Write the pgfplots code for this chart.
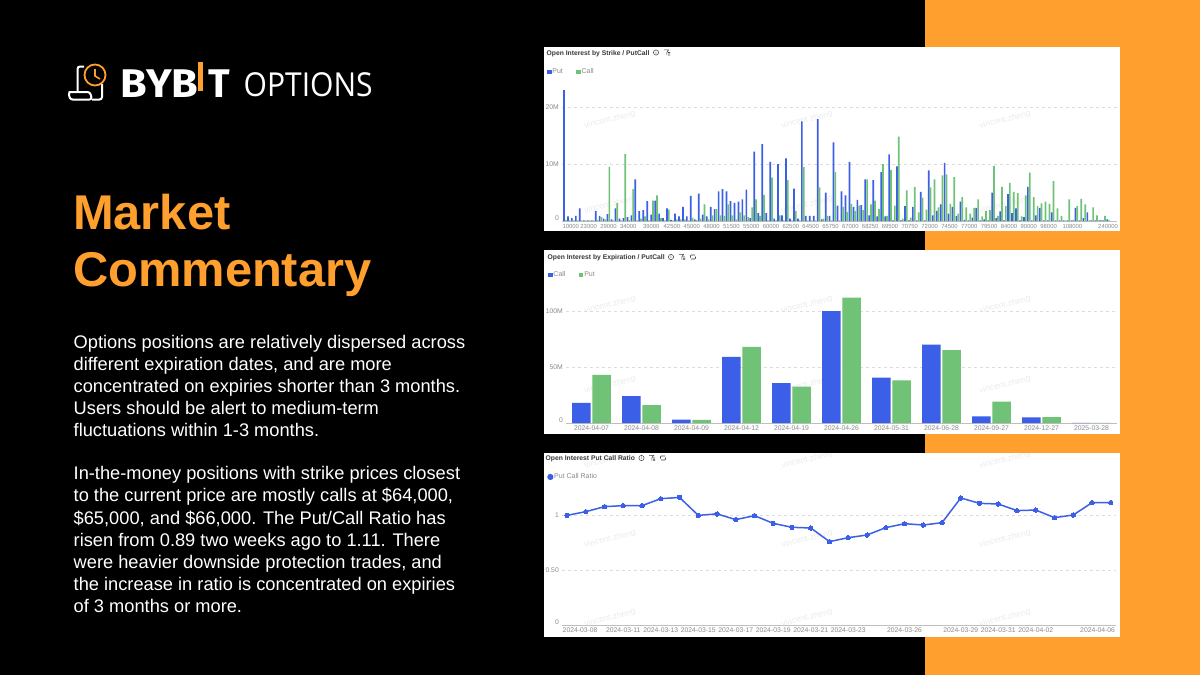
\documentclass[border=0pt]{standalone}
\usepackage{pgfplots}
\usepackage{pgfplotstable}
\pgfplotsset{compat=1.18}
\usepackage{fontspec}
\setmainfont{Liberation Sans}
\newfontfamily\logofont{Fira Sans}
\newfontfamily\optfont{Open Sans}
\definecolor{cblue}{HTML}{3B5FE6}
\definecolor{cgreen}{HTML}{6FC276}
\definecolor{corange}{HTML}{FF9F2E}
\definecolor{tickgray}{HTML}{8A8A8A}
\definecolor{gridgray}{HTML}{DDDDDD}
\definecolor{wm}{HTML}{ECECEC}
\newcommand\fs[1]{\fontsize{#1}{#1}\selectfont}
\pgfplotstableread{
i put call
0 23 0.2
1 0.8 0.1
2 0.5 0.1
3 0.9 0.1
4 2.2 0.1
5 0.1 0.1
6 0.1 0.1
7 0.1 0.1
8 1.8 0.2
9 0.9 0.7
10 0.4 0.3
11 1.2 9.5
12 0.3 0.1
13 2.2 3.2
14 0.4 0.1
15 0.5 11.8
16 0.7 0.2
17 1.0 5.6
18 7.3 0.1
19 1.8 0.4
20 1.9 0.8
21 3.5 0.1
22 1.1 3.6
23 3.6 4.5
24 1.3 0.5
25 0.5 0.1
26 2.2 2.0
27 0.2 0.1
28 1.3 0.3
29 0.8 0.3
30 2.5 0.3
31 0.8 0.1
32 4.4 0.6
33 0.3 0.2
34 4.8 0.4
35 1.1 2.9
36 0.8 0.3
37 2.5 1.0
38 2.1 2.1
39 5.2 1.0
40 5.6 0.9
41 5.2 2.9
42 3.5 1.0
43 3.2 0.3
44 3.4 1.5
45 3.8 1.0
46 5.5 0.7
47 0.5 2.4
48 12.2 3.8
49 1.4 0.9
50 13.5 4.6
51 1.4 0.1
52 10.4 7.6
53 0.4 0.1
54 10.0 1.0
55 1.0 0.1
56 11.0 7.2
57 0.4 0.1
58 5.7 1.8
59 0.4 0.1
60 17.5 9.5
61 0.9 0.1
62 0.9 0.1
63 0.9 0.1
64 17.9 5.9
65 0.3 0.4
66 5.0 0.9
67 0.9 0.1
68 13.8 8.6
69 2.7 0.1
70 5.2 2.5
71 4.5 1.6
72 10.4 3.0
73 2.5 1.8
74 3.7 2.7
75 2.8 1.9
76 7.3 7.3
77 1.0 2.9
78 7.2 3.6
79 0.8 2.1
80 8.6 10.0
81 0.8 0.9
82 11.7 9.0
83 0.1 2.7
84 9.6 14.8
85 0.1 0.4
86 2.6 5.4
87 0.1 0.6
88 2.5 6.0
89 0.1 1.5
90 5.1 4.1
91 0.1 2.0
92 8.9 5.9
93 1.0 7.3
94 1.8 2.4
95 2.9 8.0
96 10.2 8.2
97 1.3 3.0
98 2.5 7.7
99 0.9 1.3
100 3.4 4.2
101 0.2 2.4
102 0.1 1.3
103 0.6 2.3
104 2.3 3.8
105 0.1 0.8
106 0.3 1.8
107 0.1 1.9
108 5.0 9.7
109 0.5 0.9
110 1.7 6.0
111 0.1 2.6
112 4.7 6.7
113 1.4 5.1
114 2.2 4.9
115 0.1 0.8
116 0.7 4.5
117 6.0 8.5
118 0.1 4.2
119 1.0 2.6
120 2.3 3.1
121 0.1 3.4
122 0.1 3.0
123 1.5 7.0
124 0.1 2.2
125 0.1 0.9
126 0.1 0.1
127 0.1 3.8
128 0.1 0.2
129 2.3 2.6
130 0.1 3.9
131 0.5 2.9
132 1.5 0.1
133 0.1 2.4
134 0.1 1.0
135 0.1 0.2
136 0.1 0.9
137 0.3 0.1
}\strikedata
\pgfplotstableread{
i call put
0 18 43
1 24 16
2 3 2.7
3 59 68
4 35.5 32.5
5 100 112
6 40.5 38
7 70 65
8 6 19
9 5 5.3
10 0.1 0.1
}\expirydata
\pgfplotstableread{
i ratio
0 0.997
1 1.03
2 1.076
3 1.085
4 1.085
5 1.148
6 1.16
7 0.997
8 1.01
9 0.958
10 0.994
11 0.924
12 0.888
13 0.882
14 0.758
15 0.794
16 0.818
17 0.885
18 0.921
19 0.909
20 0.93
21 1.155
22 1.106
23 1.10
24 1.04
25 1.045
26 0.976
27 1.0
28 1.112
29 1.112
}\ratiodata
\pgfplotsset{
  panel/.style={
    scale only axis, clip=false,
    axis x line=bottom, axis y line=left,
    axis line style={-},
    y axis line style={draw=none},
    x axis line style={draw=black!25, line width=0.8pt},
    major tick length=0pt,
    ymajorgrids, grid style={dashed, gridgray, line width=0.5pt},
    ymin=0,
    ticklabel style={text=tickgray, font=\fs{6.8}, inner sep=0pt},
    xticklabel style={yshift=-2.2pt},
    yticklabel style={xshift=-3pt},
    legend style={draw=none, fill=none, inner sep=0pt, outer sep=0pt,
      legend columns=2, font=\fs{7}, text=tickgray,
      nodes={inner sep=0.8pt},
      /tikz/every even column/.append style={column sep=12.5pt}},
    legend cell align=left,
  },
  sq/.style={legend image code/.code={\fill[##1] (0,-2.3pt) rectangle (4.6pt,2.3pt);}},
}
\newcommand\wmark[2]{\node[rotate=14, text=wm, font=\fs{8.5}] at (#1,#2) {vincent.zheng};}
\newcommand\infoicon[2]{\draw[line width=0.5pt, black!75] (#1,#2) circle (2.6);\node[font=\fs{4.2}, text=black!80, inner sep=0] at (#1,#2) {i};}
\newcommand\filtericon[2]{\draw[line width=0.6pt, black!75] (#1-3,#2-2.7) -- (#1+1.6,#2-2.7) -- (#1-0.2,#2) -- (#1-0.2,#2+2.7) (#1+1.2,#2) -- (#1+3.2,#2) (#1+1.2,#2+1.3) -- (#1+3.2,#2+1.3) (#1+1.2,#2+2.6) -- (#1+3.2,#2+2.6);}
\newcommand\rotateicon[2]{\draw[line width=0.6pt, black!75, rounded corners=0.8pt] (#1-2.5,#2+0.5) -- (#1-2.5,#2-2) -- (#1+2.2,#2-2) (#1+2.5,#2-0.5) -- (#1+2.5,#2+2) -- (#1-2.2,#2+2);}
\begin{document}
\begin{tikzpicture}[x=1pt, y=-1pt]
\useasboundingbox (0,0) rectangle (1200,675);
\fill[black] (0,0) rectangle (1200,675);
\fill[corange] (925,0) rectangle (1200,675);
% logo
\begin{scope}[line width=2pt, white, rounded corners=2.5pt]
\draw (84,66.5) -- (77.5,66.5) -- (77.5,91);
\draw (71,92) -- (90,92) -- (92,99.5) -- (70,99.5) -- (68.5,92) -- cycle;
\draw (102,84) -- (102,99.5) -- (92,99.5);
\end{scope}
\draw[corange, line width=1.8pt] (95,75) circle (10.5);
\draw[corange, line width=1.6pt] (95,69) -- (95,76) -- (100,79);
\node[anchor=base west, inner sep=0, text=white, xscale=1.08, font=\logofont\bfseries\fs{40}] at (120.5,97.5) {BYB};
\fill[corange] (198,62) rectangle (203,91);
\node[anchor=base east, inner sep=0, text=white, font=\logofont\bfseries\fs{40}] at (230,97.5) {T};
\node[anchor=base west, inner sep=0, text=white, xscale=0.91, font=\optfont\fs{33}] at (243.5,96) {OPTIONS};
% title
\node[anchor=base west, inner sep=0, text=corange, font=\bfseries\fs{48.8}] at (73,229) {Market};
\node[anchor=base west, inner sep=0, text=corange, font=\bfseries\fs{48.8}] at (73,286) {Commentary};
% body
\begin{scope}[every node/.style={anchor=base west, inner sep=0, text=white, font=\fs{18.25}}]
\node at (73.5,348) {Options positions are relatively dispersed across};
\node at (73.5,370) {different expiration dates, and are more};
\node at (73.5,392) {concentrated on expiries shorter than 3 months.};
\node at (73.5,414) {Users should be alert to medium-term};
\node at (73.5,436) {fluctuations within 1-3 months.};
\node at (73.5,479) {In-the-money positions with strike prices closest};
\node at (73.5,501) {to the current price are mostly calls at \$64,000,};
\node at (73.5,524) {\$65,000, and \$66,000. The Put/Call Ratio has};
\node at (73.5,546) {risen from 0.89 two weeks ago to 1.11. There};
\node at (73.5,568) {were heavier downside protection trades, and};
\node at (73.5,590) {the increase in ratio is concentrated on expiries};
\node at (73.5,612) {of 3 months or more.};
\end{scope}
% panels
\fill[white] (544,47) rectangle (1120,231);
\fill[white] (544,250) rectangle (1120,434);
\fill[white] (544,453) rectangle (1120,637);
% watermarks
\begin{scope}
\clip (544,47) rectangle (1120,231) (544,250) rectangle (1120,434) (544,453) rectangle (1120,637);
\foreach \x in {610,807,1005} {\wmark{\x}{120}\wmark{\x}{205}\wmark{\x}{305}\wmark{\x}{385}\wmark{\x}{460}\wmark{\x}{539}\wmark{\x}{618}}
\end{scope}
% chart titles
\begin{scope}[every node/.style={anchor=base west, inner sep=0, text=black!78, font=\bfseries\fs{6.75}}]
\node at (546.5,55) {Open Interest by Strike / PutCall};
\node at (547.5,259.5) {Open Interest by Expiration / PutCall};
\node at (545.5,460.5) {Open Interest Put Call Ratio};
\end{scope}
\infoicon{656}{52.5}\filtericon{667}{52.5}
\infoicon{671}{257}\filtericon{682}{257}\rotateicon{693}{257}
\infoicon{641.5}{458}\filtericon{652}{458}\rotateicon{663}{458}
% chart 1
\begin{axis}[panel, at={(562pt,-221pt)}, anchor=south west,
  width=555pt, height=156pt, xmin=-0.72, xmax=139.25, ymax=27.4,
  ybar=0.1pt, bar width=1.7pt,
  ytick={0,10,20}, yticklabels={\raisebox{6.6pt}{0},10M,20M},
  xticklabel style={font=\fs{5.9}, yshift=-0.6pt},
  xtick={1.5,6,11,16,21.8,27,32,37,42,47,52,57,62,67,72,77,82,87,92,97,102,107,112,117,122,128,137},
  xticklabels={10000,23000,29000,34000,39000,42500,45000,48000,51500,55000,60000,62500,64500,65750,67000,68250,69500,70750,72000,74500,77000,79500,84000,90000,98000,108000,240000},
  legend style={at={(-0.027,0.955)}, anchor=west}]
\addplot[sq, fill=cblue, draw=none] table[x=i, y=put] {\strikedata};
\addplot[sq, fill=cgreen, draw=none] table[x=i, y=call] {\strikedata};
\legend{Put,Call}
\end{axis}
% chart 2
\begin{axis}[panel, at={(566pt,-423pt)}, anchor=south west,
  width=551pt, height=153pt, xmin=-0.51, xmax=10.51, ymax=136.6,
  ybar=1.9pt, bar width=18.4pt,
  ytick={0,50,100}, yticklabels={\raisebox{6.6pt}{0},50M,100M},
  xtick={0,...,10},
  xticklabels={2024-04-07,2024-04-08,2024-04-09,2024-04-12,2024-04-19,2024-04-26,2024-05-31,2024-06-28,2024-09-27,2024-12-27,2025-03-28},
  legend style={at={(-0.0325,0.967)}, anchor=west}]
\addplot[sq, fill=cblue, draw=none] table[x=i, y=call] {\expirydata};
\addplot[sq, fill=cgreen, draw=none] table[x=i, y=put] {\expirydata};
\legend{Call,Put}
\end{axis}
% chart 3
\begin{axis}[panel, at={(562pt,-625pt)}, anchor=south west,
  width=554pt, height=155pt, xmin=-0.267, xmax=29.28, ymin=0, ymax=1.409,
  ytick={0,0.5,1}, yticklabels={\raisebox{6.6pt}{0},0.50,1},
  xtick={0.7,3,5,7,9,11,13,15,18,21,23,25,28.3},
  xticklabels={2024-03-08,2024-03-11,2024-03-13,2024-03-15,2024-03-17,2024-03-19,2024-03-21,2024-03-23,2024-03-26,2024-03-29,2024-03-31,2024-04-02,2024-04-06},
  legend image code/.code={\fill[cblue] (2.2pt,0) circle (2.3pt);},
  legend style={at={(-0.0265,0.955)}, anchor=west, legend columns=1}]
\addplot[cblue, line width=1.5pt, mark=*, mark size=2.2pt, mark options={fill=cblue, draw=cblue, line width=0pt}] table[x=i, y=ratio] {\ratiodata};
\legend{Put Call Ratio}
\end{axis}
\end{tikzpicture}
\end{document}
